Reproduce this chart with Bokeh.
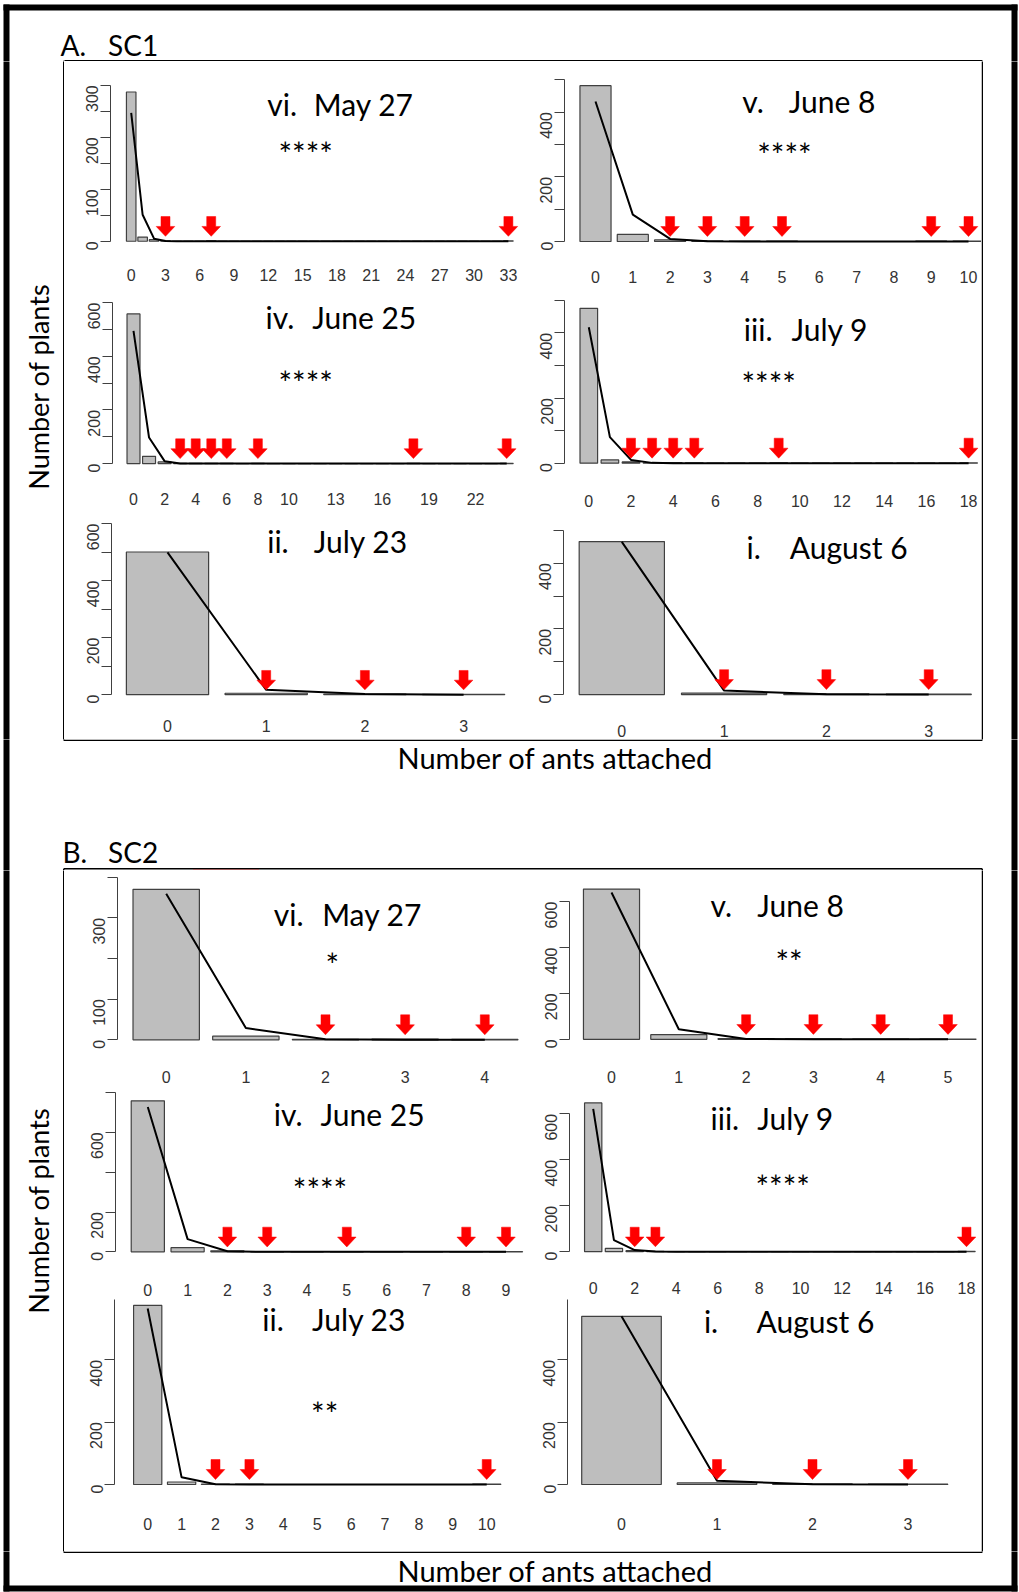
import math
from bokeh.plotting import figure
from bokeh.layouts import column, row
from bokeh.models import Range1d, FixedTicker
from bokeh.core.properties import value
from bokeh.embed import file_html
from bokeh.resources import INLINE

# ---------------- DATA ----------------
# A. SC1
a_vi_obs = [287, 8, 3, 1, 0, 0, 0, 1, 0, 0, 0, 0, 0, 0, 0, 0, 0, 0, 0, 0, 0, 0, 0, 0, 0, 0, 0, 0, 0, 0, 0, 0, 0, 1]
a_vi_exp = [247, 51, 5, 0.4, 0, 0, 0, 0, 0, 0, 0, 0, 0, 0, 0, 0, 0, 0, 0, 0, 0, 0, 0, 0, 0, 0, 0, 0, 0, 0, 0, 0, 0, 0]
a_vi_arrows = [3, 7, 33]
a_vi_xlabels = [0, 3, 6, 9, 12, 15, 18, 21, 24, 27, 30, 33]
a_vi_yticks = [0, 50, 100, 150, 200, 250, 300]
a_vi_ylabels = [0, 100, 200, 300]

a_v_obs = [482, 22, 5, 2, 1, 1, 0, 0, 0, 1, 1]
a_v_exp = [433, 83, 8, 0.5, 0, 0, 0, 0, 0, 0, 0]
a_v_arrows = [2, 3, 4, 5, 9, 10]
a_v_xlabels = [0, 1, 2, 3, 4, 5, 6, 7, 8, 9, 10]
a_v_yticks = [0, 100, 200, 300, 400, 500]
a_v_ylabels = [0, 200, 400]

a_iv_obs = [558, 27, 6, 1, 1, 1, 1, 0, 1, 0, 0, 0, 0, 0, 0, 0, 0, 0, 1, 0, 0, 0, 0, 0, 1]
a_iv_exp = [495, 97, 9, 0.6, 0, 0, 0, 0, 0, 0, 0, 0, 0, 0, 0, 0, 0, 0, 0, 0, 0, 0, 0, 0, 0]
a_iv_arrows = [3, 4, 5, 6, 8, 18, 24]
a_iv_xlabels = [0, 2, 4, 6, 8, 10, 13, 16, 19, 22]
a_iv_yticks = [0, 100, 200, 300, 400, 500, 600]
a_iv_ylabels = [0, 200, 400, 600]

a_iii_obs = [475, 10, 4, 1, 2, 1, 0, 0, 0, 1, 0, 0, 0, 0, 0, 0, 0, 0, 1]
a_iii_exp = [417, 80, 10, 1, 0, 0, 0, 0, 0, 0, 0, 0, 0, 0, 0, 0, 0, 0, 0]
a_iii_arrows = [2, 3, 4, 5, 9, 18]
a_iii_xlabels = [0, 2, 4, 6, 8, 10, 12, 14, 16, 18]
a_iii_yticks = [0, 100, 200, 300, 400, 500]
a_iii_ylabels = [0, 200, 400]

a_ii_obs = [500, 5, 2, 1]
a_ii_exp = [499, 17, 2, 0]
a_ii_arrows = [1, 2, 3]
a_ii_xlabels = [0, 1, 2, 3]
a_ii_yticks = [0, 100, 200, 300, 400, 500, 600]
a_ii_ylabels = [0, 200, 400, 600]

a_i_obs = [466, 4, 2, 1]
a_i_exp = [465, 12, 1, 0]
a_i_arrows = [1, 2, 3]
a_i_xlabels = [0, 1, 2, 3]
a_i_yticks = [0, 100, 200, 300, 400, 500]
a_i_ylabels = [0, 200, 400]

# B. SC2
b_vi_obs = [370, 9, 1, 2, 1]
b_vi_exp = [359, 29, 1.5, 0, 0]
b_vi_arrows = [2, 3, 4]
b_vi_xlabels = [0, 1, 2, 3, 4]
b_vi_yticks = [0, 100, 200, 300, 400]
b_vi_ylabels = [0, 100, 300]

b_v_obs = [655, 20, 3, 2, 1, 1]
b_v_exp = [640, 44, 1.5, 0, 0, 0]
b_v_arrows = [2, 3, 4, 5]
b_v_xlabels = [0, 1, 2, 3, 4, 5]
b_v_yticks = [0, 200, 400, 600]
b_v_ylabels = [0, 200, 400, 600]

b_iv_obs = [758, 21, 5, 1, 0, 1, 0, 0, 1, 1]
b_iv_exp = [727, 64, 3, 0.2, 0, 0, 0, 0, 0, 0]
b_iv_arrows = [2, 3, 5, 8, 9]
b_iv_xlabels = [0, 1, 2, 3, 4, 5, 6, 7, 8, 9]
b_iv_yticks = [0, 200, 400, 600, 800]
b_iv_ylabels = [0, 200, 600]

b_iii_obs = [648, 14, 4, 1, 0, 0, 0, 0, 0, 0, 0, 0, 0, 0, 0, 0, 0, 0, 1]
b_iii_exp = [622, 50, 7, 0.5, 0, 0, 0, 0, 0, 0, 0, 0, 0, 0, 0, 0, 0, 0, 0]
b_iii_arrows = [2, 3, 18]
b_iii_xlabels = [0, 2, 4, 6, 8, 10, 12, 14, 16, 18]
b_iii_yticks = [0, 200, 400, 600]
b_iii_ylabels = [0, 200, 400, 600]

b_ii_obs = [575, 8, 1, 1, 0, 0, 0, 0, 0, 0, 1]
b_ii_exp = [565, 23, 0.5, 0, 0, 0, 0, 0, 0, 0, 0]
b_ii_arrows = [2, 3, 10]
b_ii_xlabels = [0, 1, 2, 3, 4, 5, 6, 7, 8, 9, 10]
b_ii_yticks = [0, 200, 400, 600]
b_ii_ylabels = [0, 200, 400, 600]

b_i_obs = [540, 5, 2, 1]
b_i_exp = [540, 12, 1, 0]
b_i_arrows = [1, 2, 3]
b_i_xlabels = [0, 1, 2, 3]
b_i_yticks = [0, 200, 400, 600]
b_i_ylabels = [0, 200, 400, 600]

# ---------------- STYLE / LAYOUT ----------------
TITLE_FONT = "Lato"
TICK_FONT = "Liberation Sans"
TICK_SIZE = "16px"
BAR_FILL = "#BEBEBE"
DARK = "#404040"
W, H = 1019, 1592
XL0, XSPLIT, XR1 = 64, 524, 981
ROWS_A = [(61, 285), (285, 510), (510, 739)]
ROWS_B = [(870, 1088), (1088, 1298), (1298, 1551)]

GEO = {
    "a_vi": dict(axis=110, right=528, c0=130.7, unit=11.43, zero=242.7, ppu=0.5257, ly=272,
                 nx=266.7, dx=313.3, ty=104, sx=278, sy=146.7),
    "a_v": dict(axis=564, right=1000, c0=595, unit=37.3, zero=241, ppu=0.3233, ly=272,
                nx=741.7, dx=788.3, ty=100.7, sx=756.7, sy=146.7),
    "a_iv": dict(axis=111.7, right=528.7, c0=133, unit=15.55, zero=465, ppu=0.2711, ly=496,
                 nx=265, dx=311.7, ty=316.7, sx=278, sy=376),
    "a_iii": dict(axis=564, right=993, c0=588.3, unit=21.1, zero=462.7, ppu=0.326, ly=496,
                  nx=743.3, dx=791, ty=328.3, sx=741, sy=376),
    "a_ii": dict(axis=110.7, right=519, c0=167, unit=98.7, zero=700, ppu=0.2944, ly=727,
                 nx=266.7, dx=313.3, ty=541.7, sx=None, sy=None),
    "a_i": dict(axis=563.3, right=987, c0=621.3, unit=102.3, zero=695, ppu=0.33, ly=727,
                nx=746, dx=789.3, ty=546.7, sx=None, sy=None),
    "b_vi": dict(axis=117, right=533, c0=165.7, unit=79.65, zero=1039.3, ppu=0.4067, ly=1071.7,
                 nx=273.3, dx=321.7, ty=913.3, sx=325, sy=957.3),
    "b_v": dict(axis=569.3, right=982, c0=611, unit=67.3, zero=1041.7, ppu=0.2333, ly=1075,
                nx=710, dx=756.7, ty=905, sx=775, sy=956),
    "b_iv": dict(axis=115, right=537.7, c0=147.3, unit=39.8, zero=1253.3, ppu=0.2017, ly=1286.7,
                 nx=273.3, dx=320, ty=1113.3, sx=292.3, sy=1183.3),
    "b_iii": dict(axis=569.3, right=991, c0=592.7, unit=20.74, zero=1255, ppu=0.235, ly=1287.3,
                  nx=710, dx=756.7, ty=1118.3, sx=755, sy=1181.7),
    "b_ii": dict(axis=113.7, right=510, c0=147.2, unit=33.9, zero=1484, ppu=0.3115, ly=1519,
                 nx=261.8, dx=311.6, ty=1318, sx=310.6, sy=1405.7),
    "b_i": dict(axis=567.4, right=963, c0=621, unit=95.5, zero=1484, ppu=0.3115, ly=1519,
                nx=703.4, dx=756, ty=1320, sx=None, sy=None),
}

ARROW = [(0, 5), (9.3, 15), (4.5, 15), (4.5, 25), (-4.5, 25), (-4.5, 15), (-9.3, 15)]


def panel(obs, exp, arrows, xlabels, yticks, ylabels, numeral, date, stars, box, g):
    x0, y0, x1, y1 = box
    ax = int(round(g["axis"]))
    rt = int(round(min(g["right"], x1)))
    c0, unit, zero, ppu = g["c0"], g["unit"], g["zero"], g["ppu"]
    ft = y0 + 1
    fb = int(round(zero + 6))
    p = figure(width=x1 - x0, height=y1 - y0,
               x_range=Range1d((ax - c0) / unit, (rt - c0) / unit),
               y_range=Range1d((zero - fb) / ppu, (zero - ft) / ppu),
               min_border_left=ax - x0, min_border_right=x1 - rt,
               min_border_top=ft - y0, min_border_bottom=y1 - fb,
               output_backend="svg", toolbar_location=None)
    p.outline_line_color = None
    p.grid.visible = False
    p.background_fill_color = "white"
    p.border_fill_color = "white"

    cats = list(range(len(obs)))
    p.vbar(x=cats, top=obs, bottom=0, width=1 / 1.2, fill_color=BAR_FILL,
           line_color=DARK, line_width=1.2)
    p.line(cats, exp, line_color="black", line_width=2)

    xs = [[a + dx / unit for dx, dy in ARROW] for a in arrows]
    ys = [[dy / ppu for dx, dy in ARROW] for a in arrows]
    p.patches(xs, ys, fill_color="#FF0000", line_color="#FF0000", line_width=0.5)

    p.text(x=[(g["nx"] - c0) / unit, (g["dx"] - c0) / unit],
           y=[(zero - g["ty"]) / ppu] * 2, text=[numeral, date],
           text_font=value(TITLE_FONT), text_font_size="30px", text_color="black",
           text_align="left", text_baseline="middle")
    if stars:
        p.text(x=[(g["sx"] - c0) / unit], y=[(zero - g["sy"] - 7) / ppu], text=[stars],
               text_font=value(TITLE_FONT), text_font_size="32px", text_color="black",
               text_align="left", text_baseline="middle")

    xa = p.xaxis[0]
    xa.ticker = FixedTicker(ticks=xlabels)
    xa.axis_line_color = None
    xa.major_tick_line_color = None
    xa.minor_tick_line_color = None
    xa.major_label_standoff = max(0, int(round(g["ly"] - fb - 8)))
    xa.major_label_text_font = TICK_FONT
    xa.major_label_text_font_size = TICK_SIZE
    xa.major_label_text_color = "#333333"

    ya = p.yaxis[0]
    ya.ticker = FixedTicker(ticks=yticks)
    ya.bounds = (0, max(yticks))
    ya.axis_line_color = DARK
    ya.axis_line_width = 1
    ya.major_tick_line_color = DARK
    ya.major_tick_out = 10
    ya.major_tick_in = 0
    ya.minor_tick_line_color = None
    ya.major_label_orientation = math.pi / 2
    ya.major_label_overrides = {t: (str(t) if t in ylabels else "") for t in yticks}
    ya.major_label_standoff = 8
    ya.major_label_text_font = TICK_FONT
    ya.major_label_text_font_size = TICK_SIZE
    ya.major_label_text_color = "#333333"
    return p


def strip(x0, y0, x1, y1):
    p = figure(width=x1 - x0, height=y1 - y0, x_range=Range1d(x0, x1),
               y_range=Range1d(y1, y0), min_border=0, x_axis_type=None, y_axis_type=None,
               output_backend="svg", toolbar_location=None)
    p.outline_line_color = None
    p.grid.visible = False
    p.background_fill_color = "white"
    p.border_fill_color = "white"
    return p


def seg(p, pts, width, color="black", dash="solid"):
    p.segment(x0=[a[0] for a in pts], y0=[a[1] for a in pts],
              x1=[a[2] for a in pts], y1=[a[3] for a in pts],
              line_width=width, line_color=color, line_dash=dash)


def label(p, x, y, txt, size, angle=0.0, align="left"):
    p.text(x=[x], y=[y], text=[txt], angle=angle, text_font=value(TITLE_FONT),
           text_font_size=size, text_align=align, text_baseline="middle", text_color="black")


BL, BR = 6, 1014          # outer thick border x
BT, BB = 7, 1588          # outer thick border y
BX0, BX1 = 63.25, 981.75  # group box x

top = strip(0, 0, W, 61)
seg(top, [(3, BT, 1017, BT), (BL, 4, BL, 70), (BR, 4, BR, 70)], 6)
seg(top, [(XL0, 60.25, BX1, 60.25), (BX0, 60.25, BX0, 70), (BX1, 60.25, BX1, 70)], 1.5)
label(top, 60, 44.3, "A.", "28px")
label(top, 107.5, 44.3, "SC1", "28px")

leftA = strip(0, 61, XL0, 739)
seg(leftA, [(BL, 50, BL, 750)], 6)
seg(leftA, [(BX0, 50, BX0, 739.75)], 1.5)
label(leftA, 38, 386, "Number of plants", "27px", angle=math.pi / 2, align="center")
rightA = strip(XR1, 61, W, 739)
seg(rightA, [(BR, 50, BR, 750)], 6)
seg(rightA, [(BX1, 50, BX1, 739.75)], 1.5)

mid = strip(0, 739, W, 870)
seg(mid, [(BL, 730, BL, 880), (BR, 730, BR, 880)], 6)
seg(mid, [(BX0, 739.75, BX1, 739.75), (BX0, 730, BX0, 739.75), (BX1, 730, BX1, 739.75),
          (BX0, 868.25, BX1, 868.25), (BX0, 868.25, BX0, 880), (BX1, 868.25, BX1, 880)], 1.5)
seg(mid, [(193, 869.5, 258, 869.5)], 1.2, color="#FF0000", dash="1 1")
label(mid, 555, 757, "Number of ants attached", "29px", align="center")
label(mid, 62, 851, "B.", "28px")
label(mid, 107.5, 851, "SC2", "28px")

leftB = strip(0, 870, XL0, 1551)
seg(leftB, [(BL, 860, BL, 1560)], 6)
seg(leftB, [(BX0, 860, BX0, 1551.75)], 1.5)
label(leftB, 38, 1210, "Number of plants", "27px", angle=math.pi / 2, align="center")
rightB = strip(XR1, 870, W, 1551)
seg(rightB, [(BR, 860, BR, 1560)], 6)
seg(rightB, [(BX1, 860, BX1, 1551.75)], 1.5)

bot = strip(0, 1551, W, H)
seg(bot, [(BL, 1540, BL, 1591), (BR, 1540, BR, 1591), (3, BB, 1017, BB)], 6)
seg(bot, [(BX0, 1551.75, BX1, 1551.75), (BX0, 1540, BX0, 1551.75), (BX1, 1540, BX1, 1551.75)], 1.5)
label(bot, 555, 1570, "Number of ants attached", "29px", align="center")


def box(col, r):
    return (XL0, r[0], XSPLIT, r[1]) if col == 0 else (XSPLIT, r[0], XR1, r[1])


pa = [
    panel(a_vi_obs, a_vi_exp, a_vi_arrows, a_vi_xlabels, a_vi_yticks, a_vi_ylabels, "vi.", "May 27", "****", box(0, ROWS_A[0]), GEO["a_vi"]),
    panel(a_v_obs, a_v_exp, a_v_arrows, a_v_xlabels, a_v_yticks, a_v_ylabels, "v.", "June 8", "****", box(1, ROWS_A[0]), GEO["a_v"]),
    panel(a_iv_obs, a_iv_exp, a_iv_arrows, a_iv_xlabels, a_iv_yticks, a_iv_ylabels, "iv.", "June 25", "****", box(0, ROWS_A[1]), GEO["a_iv"]),
    panel(a_iii_obs, a_iii_exp, a_iii_arrows, a_iii_xlabels, a_iii_yticks, a_iii_ylabels, "iii.", "July 9", "****", box(1, ROWS_A[1]), GEO["a_iii"]),
    panel(a_ii_obs, a_ii_exp, a_ii_arrows, a_ii_xlabels, a_ii_yticks, a_ii_ylabels, "ii.", "July 23", "", box(0, ROWS_A[2]), GEO["a_ii"]),
    panel(a_i_obs, a_i_exp, a_i_arrows, a_i_xlabels, a_i_yticks, a_i_ylabels, "i.", "August 6", "", box(1, ROWS_A[2]), GEO["a_i"]),
]
pb = [
    panel(b_vi_obs, b_vi_exp, b_vi_arrows, b_vi_xlabels, b_vi_yticks, b_vi_ylabels, "vi.", "May 27", "*", box(0, ROWS_B[0]), GEO["b_vi"]),
    panel(b_v_obs, b_v_exp, b_v_arrows, b_v_xlabels, b_v_yticks, b_v_ylabels, "v.", "June 8", "**", box(1, ROWS_B[0]), GEO["b_v"]),
    panel(b_iv_obs, b_iv_exp, b_iv_arrows, b_iv_xlabels, b_iv_yticks, b_iv_ylabels, "iv.", "June 25", "****", box(0, ROWS_B[1]), GEO["b_iv"]),
    panel(b_iii_obs, b_iii_exp, b_iii_arrows, b_iii_xlabels, b_iii_yticks, b_iii_ylabels, "iii.", "July 9", "****", box(1, ROWS_B[1]), GEO["b_iii"]),
    panel(b_ii_obs, b_ii_exp, b_ii_arrows, b_ii_xlabels, b_ii_yticks, b_ii_ylabels, "ii.", "July 23", "**", box(0, ROWS_B[2]), GEO["b_ii"]),
    panel(b_i_obs, b_i_exp, b_i_arrows, b_i_xlabels, b_i_yticks, b_i_ylabels, "i.", "August 6", "", box(1, ROWS_B[2]), GEO["b_i"]),
]

gridA = column(row(pa[0], pa[1]), row(pa[2], pa[3]), row(pa[4], pa[5]))
gridB = column(row(pb[0], pb[1]), row(pb[2], pb[3]), row(pb[4], pb[5]))
page = column(top, row(leftA, gridA, rightA), mid, row(leftB, gridB, rightB), bot)

open("out.html", "w").write(file_html(page, INLINE))
